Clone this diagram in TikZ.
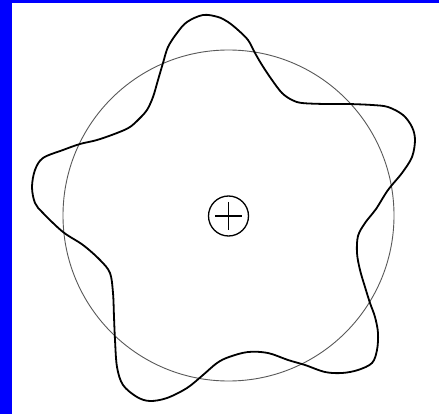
\documentclass[tikz,border=0pt]{standalone}
\begin{document}
\begin{tikzpicture}[x=1pt,y=-1pt,
  ringstyle/.style={circle, draw=black!65, line width=0.9pt, inner sep=0pt, minimum size=331pt},
  hubstyle/.style={circle, draw=black, line width=1.3pt, inner sep=0pt, minimum size=40pt},
  wavestyle/.style={draw=black, line width=1.8pt, line join=round}]
\useasboundingbox (0,0) rectangle (439,414);
\fill[white] (0,0) rectangle (439,414);
\fill[blue] (0,0) rectangle (11.5,414);
\fill[blue] (0,0) rectangle (439,3);
\node[ringstyle] (ring) at (228.5,215.5) {};
\node[hubstyle] (hub) at (228.5,216) {};
\draw[line width=1.3pt] ([xshift=-13.5pt]hub.center) -- ([xshift=13.5pt]hub.center);
\draw[line width=1.3pt] ([yshift=14pt]hub.center) -- ([yshift=-14pt]hub.center);
\draw[wavestyle] plot[smooth cycle, tension=0.55] coordinates {
(203,15) (218,17) (228,22) (238,30) (248,40) (255,53) (262,65) (272,80) (282,93) (292,100) (302,103) (325,104) (348,104) (372,105) (388,107) (403,115) (412,127) (415,140) (412,157) (402,173) (388,190) (376,209) (365,223) (358,236) (357,253) (360,270) (365,287) (370,303) (375,317) (378,333) (377,350) (372,363) (358,370) (342,373) (325,372) (305,365) (288,360) (268,353) (248,352) (229,357) (217,363) (203,375) (187,388) (167,398) (150,401) (137,397) (123,385) (117,367) (115,340) (114,317) (113,293) (110,273) (100,260) (83,245) (63,232) (43,213) (35,203) (32,187) (35,170) (43,158) (63,150) (80,144) (97,140) (117,133) (130,127) (140,118) (147,110) (153,97) (158,80) (163,63) (168,47) (177,33) (187,22)
};
\end{tikzpicture}
\end{document}
